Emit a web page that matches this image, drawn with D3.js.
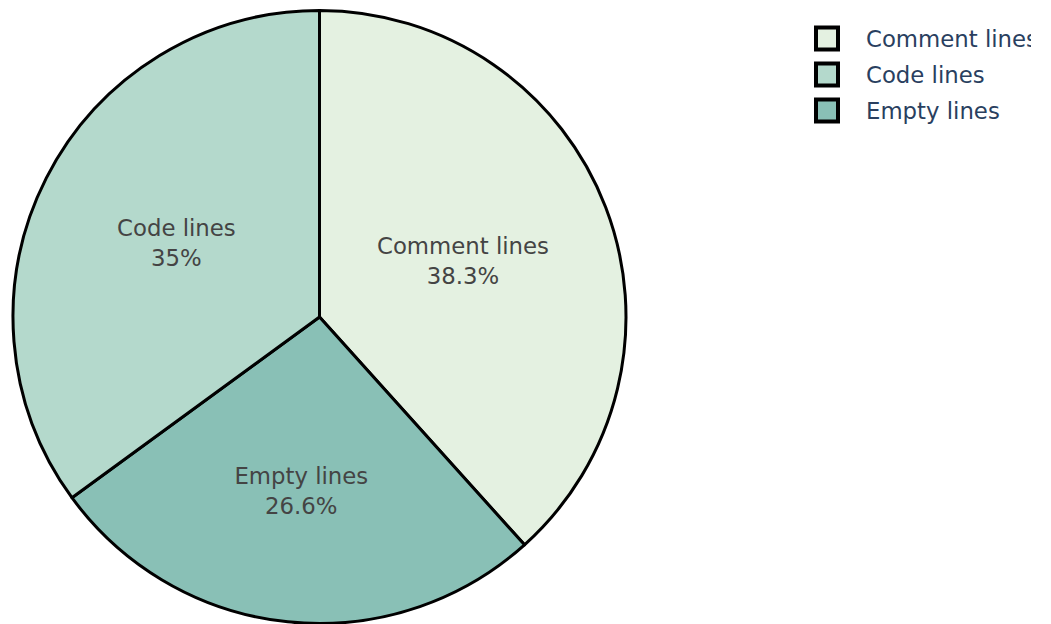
<!DOCTYPE html>
<html>
<head>
<meta charset="utf-8">
<script src="https://cdn.jsdelivr.net/npm/d3@7"></script>
<style>
  html, body { margin: 0; padding: 0; background: #fff; }
  svg { display: block; }
</style>
</head>
<body>
<div id="chart"></div>
<script>
const labels = ['Comment lines', 'Code lines', 'Empty lines']
const values = [38.3, 35.0, 26.6]
const colors = ['#e4f1e1', '#b4d9cc', '#89c0b6']
// clockwise drawing order from 12 o'clock
const drawOrder = ['Comment lines', 'Empty lines', 'Code lines']

const width = 1051
const height = 624
const FONT = '"DejaVu Sans", Verdana, sans-serif'

const cx = 319.5
const cy = 317
const radius = 306.5

const svg = d3
  .select('#chart')
  .append('svg')
  .attr('width', width)
  .attr('height', height)

const data = drawOrder.map(name => {
  const i = labels.indexOf(name)
  return { name, value: values[i], color: colors[i] }
})

const total = d3.sum(values)
const fmt = d3.format('.3~r')

const pie = d3
  .pie()
  .sort(null)
  .value(d => d.value)

const arcs = pie(data)
const arc = d3.arc().innerRadius(0).outerRadius(radius)

const g = svg.append('g').attr('transform', `translate(${cx},${cy})`)

g.selectAll('path')
  .data(arcs)
  .join('path')
  .attr('d', arc)
  .attr('fill', d => d.data.color)
  .attr('stroke', '#000')
  .attr('stroke-width', 3)
  .attr('stroke-linejoin', 'round')

// labels at the sector's centre of mass
const label = g
  .selectAll('text')
  .data(arcs)
  .join('text')
  .attr('transform', d => {
    const a = (d.startAngle + d.endAngle) / 2
    const half = (d.endAngle - d.startAngle) / 2
    const r = ((2 * radius * Math.sin(half)) / (3 * half)) * 0.97
    return `translate(${r * Math.sin(a)},${-r * Math.cos(a)})`
  })
  .attr('text-anchor', 'middle')
  .style('font', `22.8px ${FONT}`)
  .attr('fill', '#444')

label
  .append('tspan')
  .attr('x', 0)
  .attr('dy', '-0.36em')
  .text(d => d.data.name)

label
  .append('tspan')
  .attr('x', 0)
  .attr('dy', '1.32em')
  .text(d => fmt((d.data.value / total) * 100) + '%')

// legend
svg
  .append('clipPath')
  .attr('id', 'legclip')
  .append('rect')
  .attr('x', 800)
  .attr('y', 0)
  .attr('width', 231)
  .attr('height', 200)

const legend = svg
  .append('g')
  .attr('clip-path', 'url(#legclip)')
  .selectAll('g')
  .data(labels)
  .join('g')
  .attr('transform', (d, i) => `translate(0,${38.5 + i * 36})`)

legend
  .append('rect')
  .attr('x', 816)
  .attr('y', -11)
  .attr('width', 22)
  .attr('height', 22)
  .attr('fill', (d, i) => colors[i])
  .attr('stroke', '#000')
  .attr('stroke-width', 4)

legend
  .append('text')
  .attr('x', 866)
  .attr('dy', '0.36em')
  .style('font', `22.8px ${FONT}`)
  .attr('fill', '#2a3f5f')
  .text(d => d)
</script>
</body>
</html>
